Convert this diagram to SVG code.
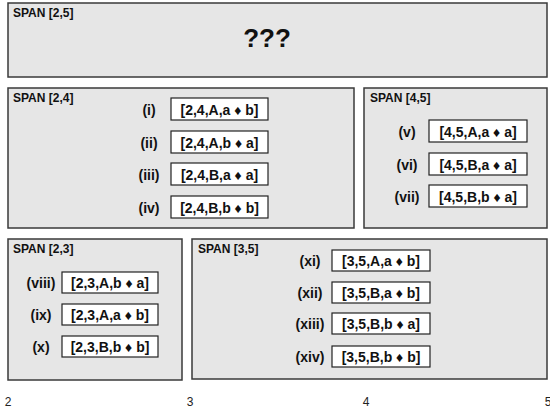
<svg xmlns="http://www.w3.org/2000/svg" width="550" height="414" viewBox="0 0 550 414">
<style>
.panel{fill:#e6e6e6;stroke:#3a3a3a;stroke-width:1.5}
.box{fill:#ffffff;stroke:#222;stroke-width:1.2}
.title{font-family:"Liberation Sans",Arial,sans-serif;font-weight:bold;font-size:12px;fill:#111}
.lbl{font-family:"Liberation Sans",Arial,sans-serif;font-weight:bold;font-size:14px;fill:#111;text-anchor:middle}
.axis{font-family:"Liberation Sans",Arial,sans-serif;font-size:12px;fill:#222;text-anchor:middle}
.q{font-family:"Liberation Sans",Arial,sans-serif;font-weight:bold;font-size:26px;fill:#111;text-anchor:middle}
</style>
<rect width="550" height="414" fill="#ffffff"/>
<g id="span25">
<rect class="panel" x="8" y="3" width="539" height="74"/>
<text class="title" x="13" y="17">SPAN [2,5]</text>
<text class="q" x="267" y="47">???</text>
</g>
<g id="span24">
<rect class="panel" x="8" y="88" width="346" height="140"/>
<text class="title" x="13" y="102">SPAN [2,4]</text>
<text class="lbl" x="149" y="115">(i)</text>
<rect class="box" x="171" y="98" width="97" height="22"/>
<text class="lbl" x="219.5" y="115">[2,4,A,a ♦ b]</text>
<text class="lbl" x="149" y="148">(ii)</text>
<rect class="box" x="171" y="131" width="97" height="22"/>
<text class="lbl" x="219.5" y="148">[2,4,A,b ♦ a]</text>
<text class="lbl" x="149" y="180">(iii)</text>
<rect class="box" x="171" y="163" width="97" height="22"/>
<text class="lbl" x="219.5" y="180">[2,4,B,a ♦ a]</text>
<text class="lbl" x="149" y="213">(iv)</text>
<rect class="box" x="171" y="196" width="97" height="22"/>
<text class="lbl" x="219.5" y="213">[2,4,B,b ♦ b]</text>
</g>
<g id="span45">
<rect class="panel" x="364" y="88" width="183" height="140"/>
<text class="title" x="370" y="102">SPAN [4,5]</text>
<text class="lbl" x="407" y="137">(v)</text>
<rect class="box" x="429" y="120" width="98" height="22"/>
<text class="lbl" x="478" y="137">[4,5,A,a ♦ a]</text>
<text class="lbl" x="407" y="170">(vi)</text>
<rect class="box" x="429" y="153" width="98" height="22"/>
<text class="lbl" x="478" y="170">[4,5,B,a ♦ a]</text>
<text class="lbl" x="407" y="202">(vii)</text>
<rect class="box" x="429" y="185" width="98" height="22"/>
<text class="lbl" x="478" y="202">[4,5,B,b ♦ a]</text>
</g>
<g id="span23">
<rect class="panel" x="8" y="239" width="174" height="141"/>
<text class="title" x="13" y="253">SPAN [2,3]</text>
<text class="lbl" x="41" y="288">(viii)</text>
<rect class="box" x="62" y="272" width="96" height="21"/>
<text class="lbl" x="110" y="288">[2,3,A,b ♦ a]</text>
<text class="lbl" x="41" y="320">(ix)</text>
<rect class="box" x="62" y="304" width="96" height="21"/>
<text class="lbl" x="110" y="320">[2,3,A,a ♦ b]</text>
<text class="lbl" x="41" y="352">(x)</text>
<rect class="box" x="62" y="336" width="96" height="21"/>
<text class="lbl" x="110" y="352">[2,3,B,b ♦ b]</text>
</g>
<g id="span35">
<rect class="panel" x="192" y="239" width="355" height="140"/>
<text class="title" x="198" y="253">SPAN [3,5]</text>
<text class="lbl" x="310" y="266">(xi)</text>
<rect class="box" x="332" y="250" width="98" height="21"/>
<text class="lbl" x="381" y="266">[3,5,A,a ♦ b]</text>
<text class="lbl" x="310" y="298">(xii)</text>
<rect class="box" x="332" y="282" width="98" height="21"/>
<text class="lbl" x="381" y="298">[3,5,B,a ♦ b]</text>
<text class="lbl" x="310" y="329">(xiii)</text>
<rect class="box" x="332" y="313" width="98" height="21"/>
<text class="lbl" x="381" y="329">[3,5,B,b ♦ a]</text>
<text class="lbl" x="310" y="362">(xiv)</text>
<rect class="box" x="332" y="346" width="98" height="21"/>
<text class="lbl" x="381" y="362">[3,5,B,b ♦ b]</text>
</g>
<g id="axis">
<text class="axis" x="8" y="406">2</text>
<text class="axis" x="190" y="406">3</text>
<text class="axis" x="366" y="406">4</text>
<text class="axis" x="548" y="406">5</text>
</g>
<g id="connectors"></g>
</svg>
